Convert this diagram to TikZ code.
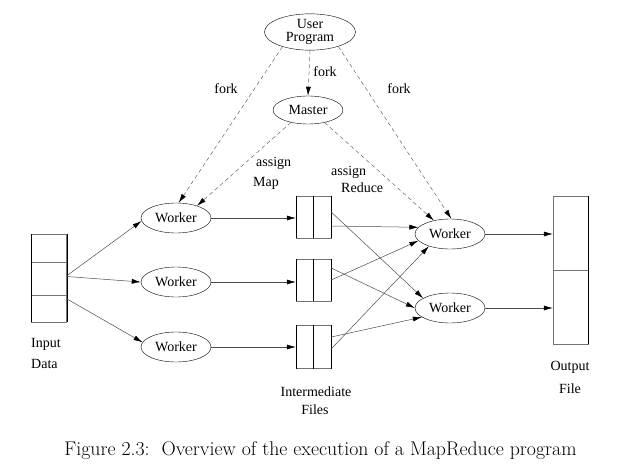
\documentclass[tikz,border=0pt]{standalone}
\usepackage{fontspec}
\setmainfont{Liberation Serif}
\newfontfamily\lmfont{Latin Modern Roman}
\usetikzlibrary{shapes.geometric,arrows.meta}
\begin{document}
\begin{tikzpicture}[x=1pt,y=-1pt,
  every node/.style={font=\fontsize{14}{16}\selectfont},
  proc/.style={draw, ellipse, minimum width=70pt, minimum height=30pt, inner sep=0pt},
  filebox/.style={draw=black!55, minimum width=35pt, inner sep=0pt},
  conn/.style={draw=black!70, line width=0.5pt, -{Latex[length=9pt,width=5pt,black]}},
  ctrl/.style={conn, dashed, dash pattern=on 4pt off 3pt, draw=black!60},
  lbl/.style={inner sep=0pt, align=left}
]
\useasboundingbox (0,0) rectangle (636,473);
% top
\node[proc, minimum width=91pt, minimum height=36pt, align=center, font=\fontsize{14}{13.5}\selectfont] (user) at (310,32) {User\\Program};
\node[proc, minimum width=70pt, minimum height=28pt] (master) at (308,110) {Master};
% map workers
\node[proc] (w1) at (176,218) {Worker};
\node[proc] (w2) at (176,282) {Worker};
\node[proc] (w3) at (176,347) {Worker};
% reduce workers
\node[proc] (r1) at (450,234) {Worker};
\node[proc] (r2) at (450,308) {Worker};
% input data
\node[filebox, minimum height=28pt] (in1) at (49,248) {};
\node[filebox, minimum height=33pt] (in2) at (49,278.5) {};
\node[filebox, minimum height=27pt] (in3) at (49,308.5) {};
\draw[black] (in1.north west) -- (in3.south west) (in1.north east) -- (in3.south east);
\node[lbl, anchor=west] (inlbl1) at (31,344) {Input};
\node[lbl, anchor=west] (inlbl2) at (31,364) {Data};
% intermediate files
\node[filebox, minimum height=42pt] (f1) at (313.5,217) {};
\node[filebox, minimum height=42pt] (f2) at (313.5,280) {};
\node[filebox, minimum height=43pt] (f3) at (313.5,347) {};
\foreach \f in {f1,f2,f3} {
  \draw[black] (\f.north west) -- (\f.south west) (\f.north east) -- (\f.south east) (\f.north) -- (\f.south);
}
\node[lbl] (imlbl1) at (316,392) {Intermediate};
\node[lbl] (imlbl2) at (315,410) {Files};
% output file
\node[filebox, minimum height=74pt] (o1) at (570.5,233) {};
\node[filebox, minimum height=74pt] (o2) at (570.5,307) {};
\draw[black] (o1.north east) -- (o2.south east);
\draw[black!55] (o1.north west) -- (o2.south west);
\node[lbl] (outlbl1) at (570,367) {Output};
\node[lbl] (outlbl2) at (570,389) {File};
% control (dashed)
\draw[ctrl] (user.208) -- (w1.80);
\draw[ctrl] (user.south) -- (master.north);
\draw[ctrl] (user.333) -- (r1.85);
\draw[ctrl] (master.216) -- (w1.30);
\draw[ctrl] (master.323) -- (r1.140);
\node[lbl] (fork1) at (226,89) {fork};
\node[lbl] (fork2) at (325,72) {fork};
\node[lbl] (fork3) at (399,89) {fork};
\node[lbl, anchor=west] (am1) at (256,163) {assign};
\node[lbl, anchor=west] (am2) at (253,183) {Map};
\node[lbl, anchor=west] (ar1) at (331,172) {assign};
\node[lbl, anchor=west] (ar2) at (341,188) {Reduce};
% data flow
\draw[conn] ([yshift=-14pt]in2.north east) -- (w1.185);
\draw[conn] ([yshift=2pt]in2.east) -- (w2.west);
\draw[conn] ([yshift=-4pt]in3.north east) -- (w3.172);
\draw[conn] (w1.east) -- (w1.east -| f1.west);
\draw[conn] (w2.east) -- (w2.east -| f2.west);
\draw[conn] (w3.east) -- (w3.east -| f3.west);
\draw[conn] ([yshift=-9pt]f1.east) -- (r1.168);
\draw[conn] ([yshift=5pt]f1.east) -- (r2.160);
\draw[conn] ([yshift=0pt]f2.east) -- (r1.192);
\draw[conn] ([yshift=12pt]f2.east) -- (r2.180);
\draw[conn] ([yshift=-2pt]f3.east) -- (r1.210);
\draw[conn] ([yshift=10pt]f3.east) -- (r2.198);
\draw[conn] (r1.east) -- (r1.east -| o1.west);
\draw[conn] (r2.east) -- (r2.east -| o2.west);
% caption
\node[inner sep=0pt, font=\lmfont\fontsize{19.8}{22}\selectfont] (cap) at (320.5,451) {Figure 2.3:\ \ Overview of the execution of a MapReduce program};
\end{tikzpicture}
\end{document}
